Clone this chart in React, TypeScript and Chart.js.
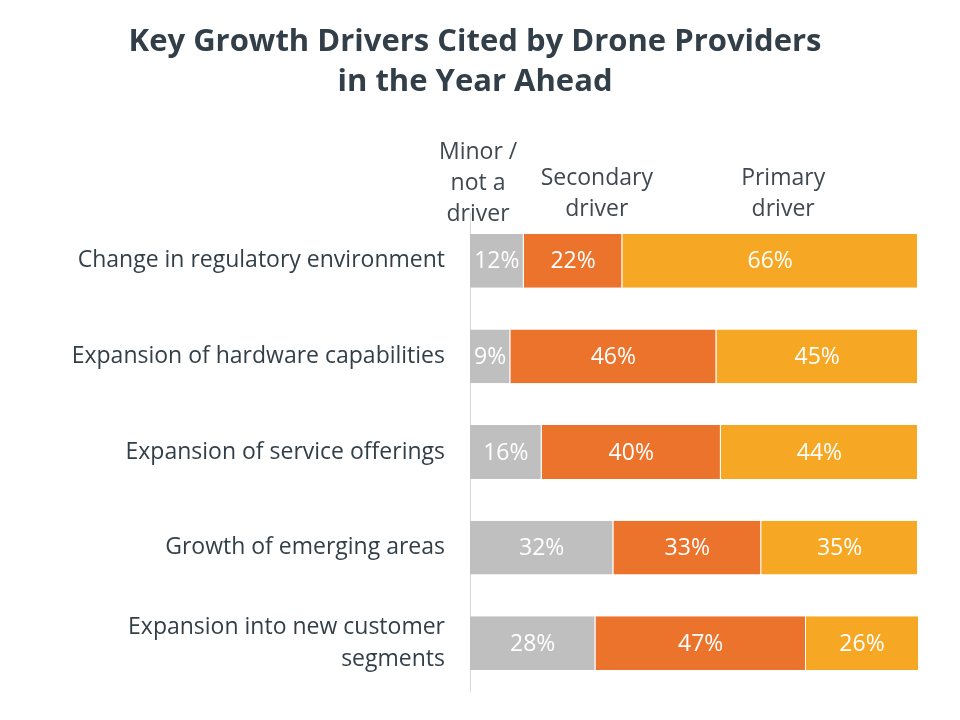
import React, { useEffect, useRef } from "react";
import { Chart, registerables } from "chart.js";

Chart.register(...registerables);

const titleLines = ["Key Growth Drivers Cited by Drone Providers", "in the Year Ahead"];
const categories: (string | string[])[] = [
  "Change in regulatory environment",
  "Expansion of hardware capabilities",
  "Expansion of service offerings",
  "Growth of emerging areas",
  ["Expansion into new customer", "segments"],
];
const seriesNames = ["Minor / not a driver", "Secondary driver", "Primary driver"];
const headerLines = [["Minor /", "not a", "driver"], ["Secondary", "driver"], ["Primary", "driver"]];
const minorValues = [12, 9, 16, 32, 28];
const secondaryValues = [22, 46, 40, 33, 47];
const primaryValues = [66, 45, 44, 35, 26];

const FONT = "'Open Sans', sans-serif";
const TEXT = "#333F48";

const overlayPlugin = {
  id: "overlay",
  afterDatasetsDraw(chart: any) {
    const ctx = chart.ctx;
    ctx.save();
    ctx.fillStyle = "#FFFFFF";
    ctx.font = `23px ${FONT}`;
    ctx.textAlign = "center";
    ctx.textBaseline = "middle";
    chart.data.datasets.forEach((ds: any, di: number) => {
      const meta = chart.getDatasetMeta(di);
      meta.data.forEach((el: any, i: number) => {
        const right = Math.min(el.x, chart.chartArea.right);
        const cx = (el.base + right) / 2;
        ctx.fillText(`${ds.data[i]}%`, cx, el.y + 1);
      });
    });
    ctx.fillStyle = TEXT;
    ctx.font = `bold 31px ${FONT}`;
    titleLines.forEach((t, i) => ctx.fillText(t, 475, 42 + i * 40));
    const xs = chart.scales.x;
    const headerPos = [1.8, 28.3, 69.9];
    ctx.fillStyle = "#404850";
    ctx.font = `23px ${FONT}`;
    headerLines.forEach((lines, hi) => {
      const x = xs.getPixelForValue(headerPos[hi]);
      const n = lines.length;
      lines.forEach((l, li) => {
        const y = (hi === 0 ? 214 : 209) - (n - 1 - li) * 31;
        ctx.fillText(l, x, y);
      });
    });
    ctx.restore();
  },
};

export default function App() {
  const ref = useRef<HTMLCanvasElement>(null);
  useEffect(() => {
    document.body.style.margin = "0";
    const colors = ["#BFBFBF", "#EC732C", "#F6A723"];
    const values = [minorValues, secondaryValues, primaryValues];
    const chart = new Chart(ref.current!, {
      type: "bar",
      data: {
        labels: categories as any,
        datasets: seriesNames.map((name, i) => ({
          label: name,
          data: values[i],
          backgroundColor: colors[i],
          borderColor: "#FFFFFF",
          borderWidth: { left: 0, right: 1, top: 0, bottom: 0 },
          borderSkipped: false,
          categoryPercentage: 1,
          barPercentage: 0.5625,
        })),
      },
      options: {
        indexAxis: "y",
        animation: false,
        responsive: false,
        maintainAspectRatio: false,
        layout: { padding: { top: 213, bottom: 29, right: 42, left: 0 } },
        plugins: {
          legend: { display: false },
          title: { display: false },
          tooltip: { enabled: false },
        },
        scales: {
          x: { stacked: true, min: 0, max: 100, display: false },
          y: {
            stacked: true,
            grid: { display: false, drawTicks: false },
            border: { display: true, color: "#D9D9D9", width: 1 },
            ticks: {
              color: TEXT,
              font: { family: FONT, size: 23, lineHeight: 1.39 },
              padding: 25,
            },
            afterFit(scale: any) {
              scale.width = 470;
              scale.paddingTop = 0;
              scale.paddingBottom = 0;
            },
          },
        },
      },
      plugins: [overlayPlugin],
    });
    return () => chart.destroy();
  }, []);
  return (
    <div style={{ width: 960, height: 720 }}>
      <canvas ref={ref} width={960} height={720} style={{ width: 960, height: 720 }} />
    </div>
  );
}
